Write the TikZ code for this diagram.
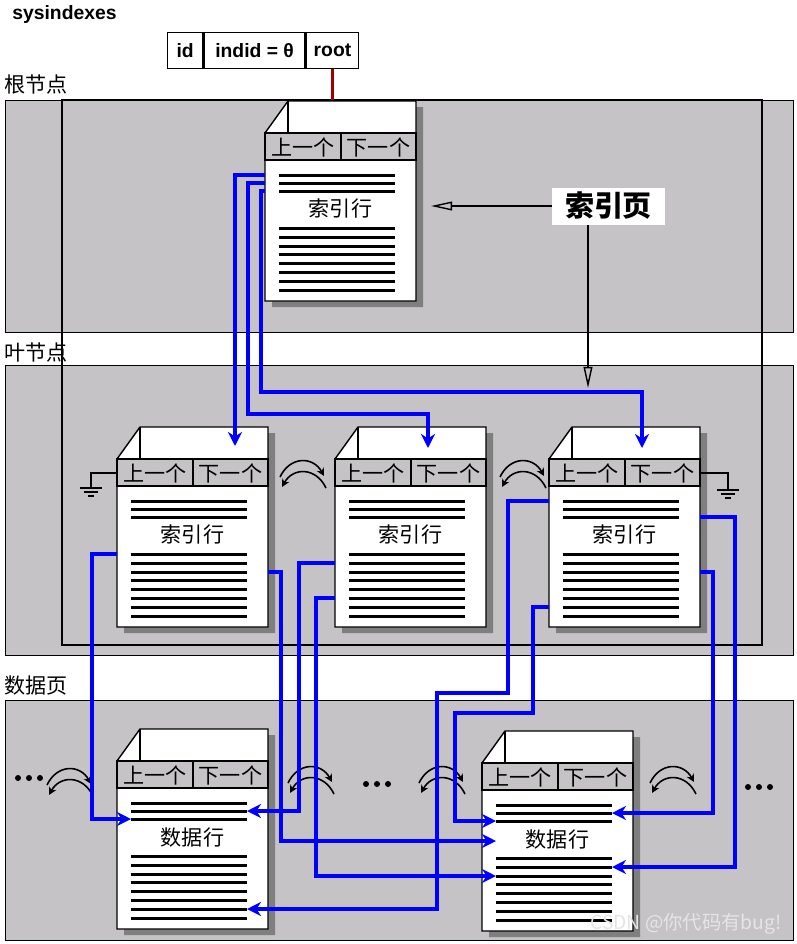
\documentclass[tikz,border=0pt]{standalone}
\usepackage{fontspec}
\setmainfont{Liberation Sans}
\newfontfamily\cjk{Noto Sans CJK SC}
\usetikzlibrary{positioning,calc,arrows.meta}

\definecolor{panelgray}{HTML}{C6C3C6}
\definecolor{shadowgray}{HTML}{7F7F7F}
\definecolor{linkblue}{HTML}{0000FF}
\definecolor{rootred}{HTML}{A00000}

\tikzset{
    panel/.style={draw, line width=0.8pt, fill=panelgray, inner sep=0, anchor=north west},
    frame/.style={draw, line width=1.1pt},
    tier/.style={anchor=west, inner sep=0, font=\cjk\fontsize{12}{14}\selectfont},
    cell/.style={draw, line width=0.8pt, fill=white, inner sep=0, minimum height=0.72cm,
        font=\bfseries\fontsize{11}{13}\selectfont},
    pageline/.style={line width=0.8pt},
    rowline/.style={line width=1.7pt},
    tabfont/.style={inner sep=0, font=\cjk\fontsize{12}{14}\selectfont},
    rowfont/.style={inner sep=0, font=\cjk\fontsize{12}{14}\selectfont},
    link/.style={draw=linkblue, line width=2.1pt, -{Stealth[length=8pt,width=8pt]}},
    hop/.style={line width=0.9pt, -{Stealth[length=4.5pt,width=4.5pt]}},
    wire/.style={line width=0.8pt},
    pointer/.style={line width=0.8pt, -{Triangle[open,length=12pt,width=5pt]}},
    tagbox/.style={fill=white, inner sep=0, minimum width=2.26cm, minimum height=0.74cm,
        font=\cjk\bfseries\fontsize{16.5}{18}\selectfont},
    hoplink/.pic={
        \draw[hop] (-23,3) .. controls (-13,-18) and (10,-18) .. (21,2);
        \draw[hop] (23,14) .. controls (13,-7) and (-10,-7) .. (-21,13);
    },
    ellipsis/.pic={
        \foreach \dx in {-11,0,11} \fill (\dx,0) circle[radius=0.06cm];
    },
    earth/.pic={
        \draw[line width=1pt] (-11,0) -- (11,0) (-7,4) -- (7,4) (-3,8) -- (3,8);
    }
}

% one page: name, left, top, row text
\newcommand{\docpage}[4]{%
    \begin{scope}[shift={(#2,#3)}]
        \fill[shadowgray] (30,6) -- (158,6) -- (158,206) -- (7,206) -- (7,38) -- cycle;
        \filldraw[pageline, fill=white] (23,0) -- (151,0) -- (151,200) -- (0,200) -- (0,32) -- cycle;
        \filldraw[pageline, fill=panelgray] (0,32) rectangle (151,59);
        \draw[pageline] (23,0) -- (23,32) (76,32) -- (76,59);
        \node[tabfont] at (38,46) {上一个};
        \node[tabfont] at (113.5,46) {下一个};
        \node[rowfont] at (75.5,108) {#4};
        \foreach \ly [count=\i] in {74,82,90,127,136,145,153,162,171,180,189} {
            \draw[rowline] (14,\ly) -- (130,\ly);
            \coordinate (#1-w\i) at (0,\ly);
            \coordinate (#1-e\i) at (151,\ly);
            \coordinate (#1-l\i) at (14,\ly);
            \coordinate (#1-r\i) at (130,\ly);
        }
        \coordinate (#1-lt) at (14,110);
        \coordinate (#1-hw) at (0,46);
        \coordinate (#1-he) at (151,46);
        \node[inner sep=0, minimum width=3.02cm, minimum height=4cm, anchor=north west] (#1) at (0,0) {};
    \end{scope}}

\begin{document}
\begin{tikzpicture}[x=0.02cm, y=-0.02cm]
    \useasboundingbox (0,0) rectangle (796,944);

    % tiers
    \node[panel, minimum width=15.76cm, minimum height=4.64cm] (rootpanel) at (5,100) {};
    \node[panel, minimum width=15.76cm, minimum height=5.8cm] (leafpanel) at (5,365) {};
    \node[panel, minimum width=15.76cm, minimum height=4.8cm] (datapanel) at (5,700) {};
    \draw[frame] (62,100) rectangle (762,645);

    \node[tier] (roottitle) at (4,84) {根节点};
    \node[tier] (leaftitle) at (4,352) {叶节点};
    \node[tier] (datatitle) at (4,685) {数据页};

    % sysindexes row
    \node[anchor=west, inner sep=0, font=\bfseries\fontsize{11}{13}\selectfont] (systitle) at (12,14) {sysindexes};
    \node[cell, minimum width=0.7cm, anchor=north west] (tid) at (167,32) {id};
    \node[cell, minimum width=2.02cm, right=0pt of tid] (tindid) {indid = θ};
    \node[cell, minimum width=1.04cm, right=0pt of tindid] (troot) {root};
    \draw[rootred, line width=1.5pt] (troot.south) -- (troot.south |- rootpanel.north);

    % pages
    \docpage{root}{265}{101}{索引行}
    \docpage{leaf1}{117}{427}{索引行}
    \docpage{leaf2}{335}{427}{索引行}
    \docpage{leaf3}{549}{427}{索引行}
    \docpage{data1}{117}{729}{数据行}
    \docpage{data2}{482}{731}{数据行}

    % prev / next
    \pic at (303,474) {hoplink};
    \pic at (523,474) {hoplink};
    \pic at (70,782) {hoplink};
    \pic at (311,780) {hoplink};
    \pic at (442,780) {hoplink};
    \pic at (673,780) {hoplink};
    \pic at (29,778) {ellipsis};
    \pic at (377,784) {ellipsis};
    \pic at (759,787) {ellipsis};

    \draw[wire] (leaf1-hw) -- ++(-26,0) -- ++(0,15) coordinate (gnd1);
    \pic at (gnd1) {earth};
    \draw[wire] (leaf3-he) -- ++(28,0) -- ++(0,17) coordinate (gnd2);
    \pic at (gnd2) {earth};

    % root -> leaves
    \draw[link] (root-w1) -| ($(leaf1.north west)+(118,19)$);
    \draw[link] (root-w2) -- ++(-17,0) -- ++(0,231) -| ($(leaf2.north west)+(93,21)$);
    \draw[link] (root-w3) -- ++(-4,0) -- ++(0,201) -| ($(leaf3.north west)+(93,21)$);

    % leaves -> data
    \draw[link] (leaf1-w4) -- ++(-25,0) |- (data1-l3);
    \draw[link] (leaf1-e6) -- ++(13,0) |- (data2-lt);
    \draw[link] (leaf2-w5) -- ++(-36,0) |- (data1-r2);
    \draw[link] (leaf2-w9) -- ++(-19,0) |- (data2-l6);
    \draw[link] (leaf3-w1) -- ++(-41,0) -- ++(0,192) -- ++(-71,0) |- (data1-r10);
    \draw[link] (leaf3-w10) -- ++(-16,0) -- ++(0,106) -- ++(-78,0) |- (data2-l3);
    \draw[link] (leaf3-e3) -- ++(35,0) |- (data2-r5);
    \draw[link] (leaf3-e6) -- ++(13,0) |- (data2-r2);

    % index page tag
    \node[tagbox] (idxtag) at (608.5,206) {索引页};
    \coordinate (idxleft) at (431,206);
    \coordinate (idxdown) at (588,388);
    \draw[pointer] (idxtag.west) -- (idxleft);
    \draw[pointer] (idxtag.south -| idxdown) -- (idxdown);

    \node[font=\cjk\fontsize{11}{13}\selectfont, text=white!80!gray] (mark) at (686,924) {CSDN @你代码有bug!};
\end{tikzpicture}
\end{document}
